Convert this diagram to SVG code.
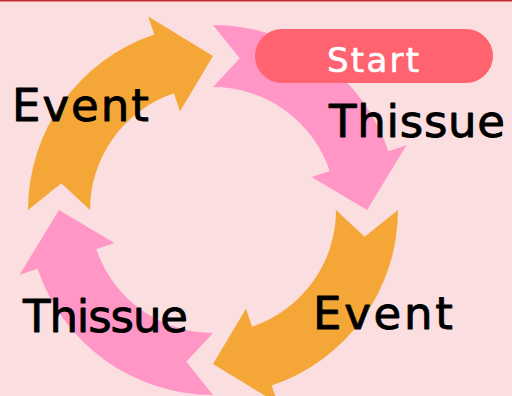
<svg xmlns="http://www.w3.org/2000/svg" xmlns:xlink="http://www.w3.org/1999/xlink" width="512" height="396" viewBox="0 0 512 396">
  <defs>
    <style>
      .pink { fill: #FF96C5; }
      .orange { fill: #F4A737; }
      .label { font-family: "DejaVu Sans", "Liberation Sans", sans-serif; font-size: 45px; fill: #000000; stroke: #000000; stroke-width: 0.9px; stroke-linejoin: round; }
      .start { font-family: "DejaVu Sans", "Liberation Sans", sans-serif; font-size: 34px; fill: #FFFFFF; stroke: #FFFFFF; stroke-width: 0.6px; stroke-linejoin: round; }
    </style>
    <path id="arrow" d="M213,25 A185,185 0 0 1 388.44,151.3 L406.46,145.27 L367,210 L311.63,177 L329.64,170.97 A123,123 0 0 0 213,87 L239.74,58.34 Z"/>
  </defs>
  <rect x="0" y="0" width="512" height="396" fill="#FADEE0"/>
  <rect x="0" y="0" width="512" height="1.5" fill="#C9282A"/>
  <g id="connectors">
    <use xlink:href="#arrow" href="#arrow" class="pink"/>
    <use xlink:href="#arrow" href="#arrow" class="orange" transform="rotate(90 213 210)"/>
    <use xlink:href="#arrow" href="#arrow" class="pink" transform="rotate(180 213 210)"/>
    <use xlink:href="#arrow" href="#arrow" class="orange" transform="rotate(270 213 210)"/>
  </g>
  <g id="start">
    <rect x="255" y="29" width="238" height="54" rx="27" ry="27" fill="#FF6370"/>
    <text class="start" x="327" y="72" textLength="92" lengthAdjust="spacing">Start</text>
  </g>
  <g id="thissue-top">
    <text class="label" x="329" y="137" textLength="176" lengthAdjust="spacing">Thissue</text>
  </g>
  <g id="event-top">
    <text class="label" x="12" y="121" textLength="137" lengthAdjust="spacing">Event</text>
  </g>
  <g id="event-bottom">
    <text class="label" x="313" y="329" textLength="140" lengthAdjust="spacing">Event</text>
  </g>
  <g id="thissue-bottom">
    <text class="label" x="23" y="332" textLength="165" lengthAdjust="spacing">Thissue</text>
  </g>
</svg>
